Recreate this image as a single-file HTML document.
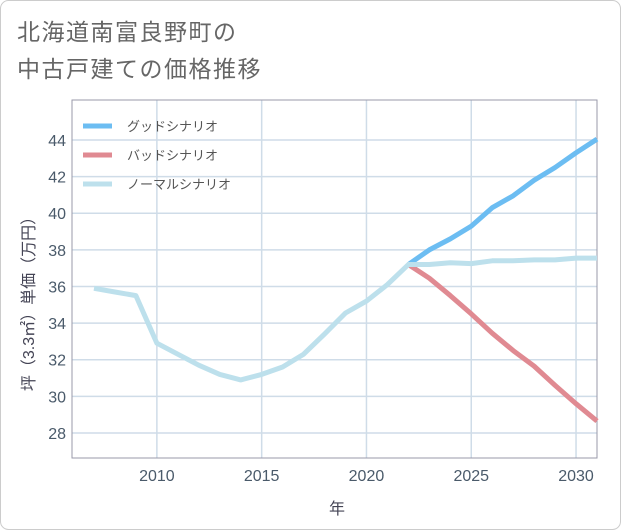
<!DOCTYPE html>
<html><head><meta charset="utf-8"><style>
html,body{margin:0;padding:0;background:#fff;}
svg{display:block;font-family:"Liberation Sans","Noto Sans CJK JP",sans-serif;}
</style></head><body>
<svg id="chart" width="621" height="530" viewBox="0 0 621 530">
<rect x="0.5" y="0.5" width="620" height="529" rx="8" fill="#fff" stroke="#ccc"/>
<text x="17" y="40" font-size="23" fill="#666" letter-spacing="1.5">北海道南富良野町の</text>
<text x="17" y="77" font-size="23" fill="#666" letter-spacing="1.5">中古戸建ての価格推移</text>
<g id="grid"></g>
<rect x="72" y="100" width="525" height="358" fill="none" stroke="#99a" stroke-width="1"/>
<g id="lines"></g>
<g id="legend"></g>
<text x="337" y="514" font-size="16" fill="#445" text-anchor="middle">年</text>
<text transform="translate(34,300) rotate(-90)" font-size="16" fill="#445" text-anchor="middle">坪（3.3㎡）単価（万円）</text>
</svg>
<script>
const years=[2007,2008,2009,2010,2011,2012,2013,2014,2015,2016,2017,2018,2019,2020,2021,2022,2023,2024,2025,2026,2027,2028,2029,2030,2031];
const normal=[35.9,35.7,35.5,32.9,32.3,31.7,31.2,30.9,31.2,31.6,32.3,33.4,34.55,35.2,36.1,37.2,37.2,37.3,37.25,37.4,37.4,37.45,37.45,37.55,37.55];
const futureYears=[2022,2023,2024,2025,2026,2027,2028,2029,2030,2031];
const good=[37.2,38.0,38.6,39.3,40.3,40.95,41.8,42.5,43.3,44.05];
const bad=[37.2,36.45,35.5,34.5,33.45,32.5,31.65,30.6,29.6,28.65];
const xTicks=[2010,2015,2020,2025,2030];
const yTicks=[28,30,32,34,36,38,40,42,44];
const legendLabels=["グッドシナリオ","バッドシナリオ","ノーマルシナリオ"];
const NS="http://www.w3.org/2000/svg";
const X0=72,X1=597,Y0=100,Y1=458;
const xMin=2005.95,xMax=2031.0;
function x(v){return X0+(v-xMin)/(xMax-xMin)*(X1-X0);}
function y(v){return 140+(44-v)*18.31;}
function mk(t,a,p){const e=document.createElementNS(NS,t);for(const k in a)e.setAttribute(k,a[k]);p.appendChild(e);return e;}
const grid=document.getElementById('grid');
yTicks.forEach(v=>{
  const l=mk('line',{x1:X0,x2:X1,y1:y(v),y2:y(v),stroke:'#cfdce8','stroke-width':1.5},grid);
  
  
  const t=mk('text',{x:66,y:y(v)+6,'font-size':16,fill:'#4a5a6a','text-anchor':'end'},grid);
  t.textContent=v;
  
  
});
xTicks.forEach(v=>{
  const l=mk('line',{x1:x(v),x2:x(v),y1:Y0,y2:Y1,stroke:'#cfdce8','stroke-width':1.5},grid);
  
  
  const t=mk('text',{x:x(v),y:481,'font-size':16,fill:'#4a5a6a','text-anchor':'middle'},grid);
  t.textContent=v;
  
  
});
const lines=document.getElementById('lines');
function path(xs,vs,color,name){
  const d=xs.map((v,i)=>(i?'L':'M')+x(v).toFixed(1)+','+y(vs[i]).toFixed(1)).join('');
  const p=mk('path',{d:d,fill:'none',stroke:color,'stroke-width':5,'stroke-linejoin':'round'},lines);
  
  
}
path(futureYears,good,'#6cbdf2','good-scenario-line');
path(futureYears,bad,'#e08a92','bad-scenario-line');
path(years,normal,'#bde0ec','normal-scenario-line');
const leg=document.getElementById('legend');
const colors=['#6cbdf2','#e08a92','#bde0ec'];
legendLabels.forEach((s,i)=>{
  const yy=126+i*29;
  const l=mk('line',{x1:83,x2:112,y1:yy,y2:yy,stroke:colors[i],'stroke-width':5},leg);
  
  
  const t=mk('text',{x:127,y:yy+5,'font-size':13,fill:'#555'},leg);
  t.textContent=s;
  
  
});
</script>
</body></html>
